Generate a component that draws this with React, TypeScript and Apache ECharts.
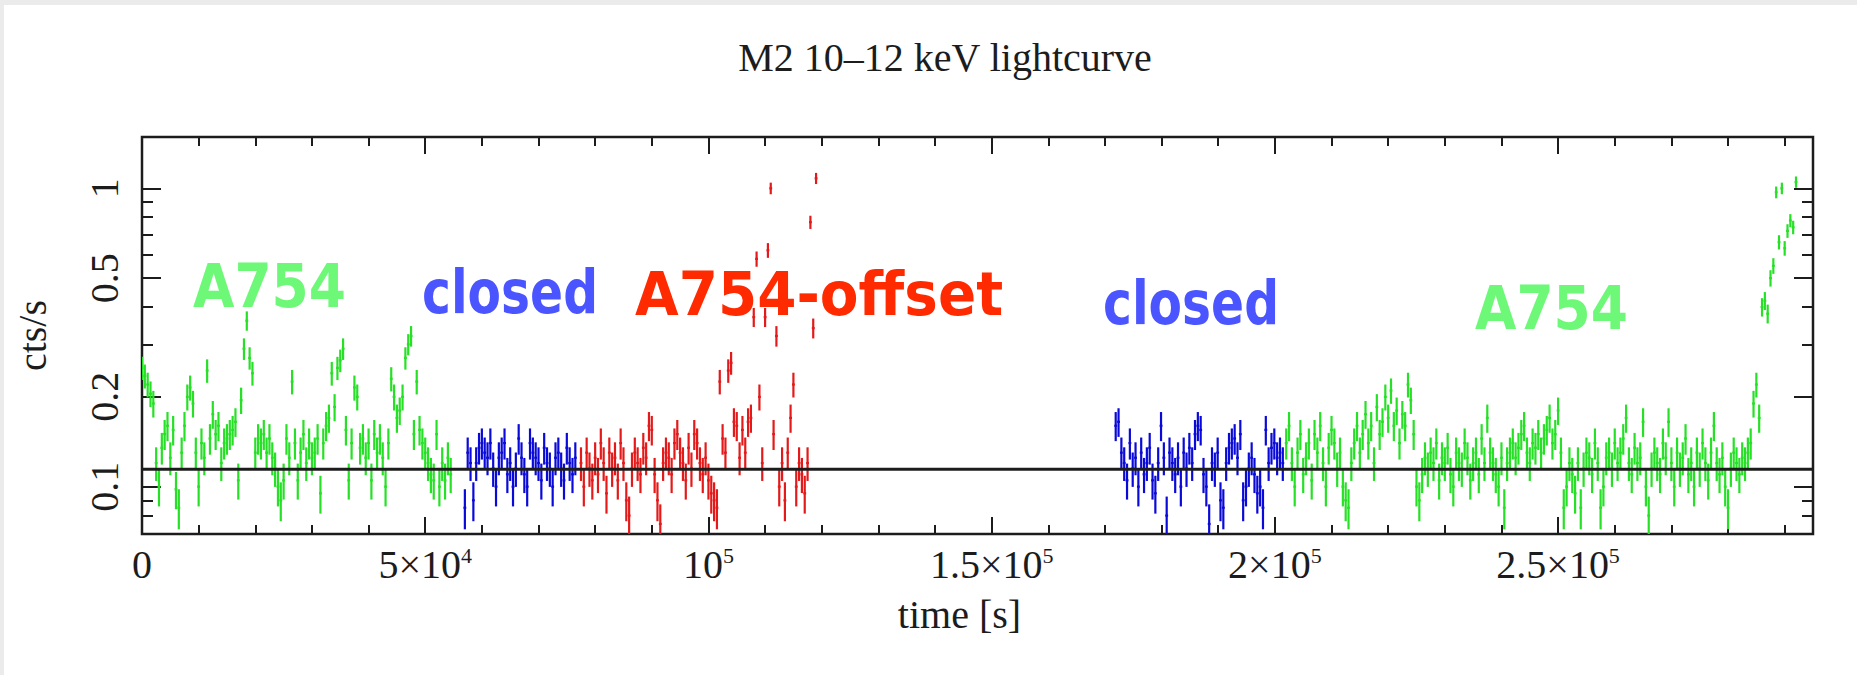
import { useEffect, useRef } from 'react';
import * as echarts from 'echarts';

// Binning and plot ranges of the light curve
const BIN_SIZE = 500; // seconds per bin
const TIME_MIN = 0;
const TIME_MAX = 2.95e5;
const RATE_MIN = 0.0694;
const RATE_MAX = 1.486;
const MEAN_RATE = 0.1144;

// Count rates (cts/s) per 500 s bin, one array per observation segment
const a754Start1 = 0;
const a754Rates1 = [
  0.25, 0.235, 0.22, 0.205, 0.19, 0.12, 0.1, 0.135, 0.15, 0.16,
  0.125, 0.155, 0.098, 0.085, 0.13, 0.16, 0.2, 0.215, 0.19, 0.13,
  0.1, 0.14, 0.125, 0.245, 0.145, 0.175, 0.15, 0.16, 0.12, 0.14,
  0.145, 0.15, 0.155, 0.165, 0.105, 0.195, 0.29, 0.36, 0.27, 0.24,
  0.13, 0.145, 0.14, 0.15, 0.13, 0.145, 0.125, 0.115, 0.1, 0.09,
  0.105, 0.145, 0.125, 0.225, 0.14, 0.105, 0.13, 0.15, 0.12, 0.14,
  0.125, 0.13, 0.145, 0.095, 0.14, 0.16, 0.17, 0.24, 0.185, 0.25,
  0.265, 0.29, 0.155, 0.105, 0.14, 0.215, 0.2, 0.135, 0.145, 0.125,
  0.14, 0.105, 0.15, 0.13, 0.145, 0.125, 0.1, 0.14, 0.23, 0.2,
  0.17, 0.18, 0.2, 0.27, 0.3, 0.32, 0.15, 0.225, 0.155, 0.14,
  0.13, 0.12, 0.11, 0.105, 0.15, 0.1, 0.12, 0.105, 0.125, 0.11,
];

const closedStart1 = 57000;
const closedRates1 = [
  0.085, 0.13, 0.12, 0.09, 0.12, 0.135, 0.14, 0.13, 0.125, 0.14,
  0.115, 0.1, 0.125, 0.13, 0.14, 0.11, 0.12, 0.1, 0.115, 0.145,
  0.125, 0.11, 0.1, 0.14, 0.13, 0.125, 0.12, 0.105, 0.135, 0.12,
  0.115, 0.1, 0.125, 0.13, 0.115, 0.105, 0.135, 0.12, 0.11, 0.125,
];

const offsetStart = 77500;
const offsetRates = [
  0.12, 0.1, 0.13, 0.115, 0.105, 0.125, 0.11, 0.14, 0.12, 0.095,
  0.13, 0.115, 0.125, 0.105, 0.14, 0.12, 0.09, 0.08, 0.115, 0.13,
  0.12, 0.11, 0.135, 0.125, 0.16, 0.155, 0.11, 0.09, 0.075, 0.12,
  0.13, 0.125, 0.11, 0.14, 0.15, 0.13, 0.12, 0.105, 0.135, 0.115,
  0.15, 0.14, 0.12, 0.11, 0.125, 0.105, 0.095, 0.09, 0.085, 0.225,
  0.145, 0.13, 0.245, 0.26, 0.165, 0.16, 0.125, 0.155, 0.13, 0.165,
  0.17, 0.37, 0.58, 0.2, 0.12, 0.37, 0.62, 1.0, 0.15, 0.32,
  0.1, 0.12, 0.09, 0.13, 0.17, 0.22, 0.1, 0.12, 0.11, 0.095,
  0.12, 0.77, 0.34, 1.08,
];

const closedStart2 = 171900;
const closedRates2 = [
  0.16, 0.165, 0.13, 0.12, 0.105, 0.14, 0.115, 0.125, 0.1, 0.13,
  0.11, 0.12, 0.135, 0.105, 0.095, 0.12, 0.16, 0.125, 0.08, 0.13,
  0.12, 0.11, 0.125, 0.1, 0.13, 0.115, 0.135, 0.12, 0.15, 0.16,
  0.155, 0.11, 0.1, 0.075, 0.12, 0.115, 0.13, 0.09, 0.085, 0.12,
  0.135, 0.14, 0.145, 0.125, 0.15, 0.09, 0.1, 0.115, 0.125, 0.11,
  0.095, 0.1, 0.085, 0.155, 0.12, 0.135, 0.14, 0.125, 0.13, 0.12,
];

const a754Start2 = 202000;
const a754Rates2 = [
  0.14, 0.16, 0.12, 0.1, 0.13, 0.15, 0.11, 0.125, 0.14, 0.105,
  0.15, 0.13, 0.16, 0.12, 0.1, 0.135, 0.155, 0.14, 0.115, 0.13,
  0.1, 0.09, 0.085, 0.12, 0.14, 0.16, 0.13, 0.15, 0.175, 0.14,
  0.16, 0.12, 0.185, 0.15, 0.165, 0.2, 0.17, 0.21, 0.16, 0.18,
  0.14, 0.175, 0.16, 0.22, 0.195, 0.15, 0.1, 0.09, 0.11, 0.125,
  0.115, 0.13, 0.12, 0.14, 0.105, 0.125, 0.12, 0.135, 0.11, 0.1,
  0.13, 0.12, 0.115, 0.14, 0.125, 0.105, 0.12, 0.13, 0.11, 0.145,
  0.12, 0.17, 0.13, 0.12, 0.11, 0.1, 0.125, 0.085, 0.12, 0.13,
  0.14, 0.125, 0.135, 0.15, 0.16, 0.13, 0.12, 0.14, 0.135, 0.15,
  0.13, 0.145, 0.155, 0.17, 0.14, 0.15, 0.18, 0.13, 0.085, 0.1,
  0.12, 0.11, 0.095, 0.12, 0.085, 0.115, 0.13, 0.125, 0.11, 0.14,
  0.12, 0.085, 0.1, 0.125, 0.13, 0.115, 0.14, 0.12, 0.13, 0.145,
  0.17, 0.12, 0.11, 0.135, 0.12, 0.125, 0.165, 0.1, 0.08, 0.115,
  0.13, 0.12, 0.11, 0.14, 0.125, 0.165, 0.12, 0.1, 0.13, 0.115,
  0.125, 0.145, 0.11, 0.12, 0.1, 0.13, 0.115, 0.14, 0.12, 0.105,
  0.13, 0.16, 0.12, 0.11, 0.125, 0.1, 0.085, 0.115, 0.13, 0.12,
  0.11, 0.125, 0.12, 0.13, 0.14, 0.19, 0.22, 0.17, 0.4, 0.42,
  0.38, 0.5, 0.55, 0.97, 0.66, 1.0, 0.63, 0.72, 0.78, 0.74, 1.05,
];

// Axis ticks and their labels
const xMajorTicks = [0, 5e4, 1e5, 1.5e5, 2e5, 2.5e5];
const xTickLabels = ['0', '5×10{sup|4}', '10{sup|5}', '1.5×10{sup|5}', '2×10{sup|5}', '2.5×10{sup|5}'];
const xMinorTicks = [
  1e4, 2e4, 3e4, 4e4, 6e4, 7e4, 8e4, 9e4, 1.1e5, 1.2e5, 1.3e5, 1.4e5,
  1.6e5, 1.7e5, 1.8e5, 1.9e5, 2.1e5, 2.2e5, 2.3e5, 2.4e5, 2.6e5, 2.7e5, 2.8e5, 2.9e5,
];
const yMajorTicks = [0.1, 0.2, 0.5, 1];
const yTickLabels = ['0.1', '0.2', '0.5', '1'];
const yMinorTicks = [0.08, 0.09, 0.3, 0.4, 0.6, 0.7, 0.8, 0.9];

// Colours
const INK = '#1c1c1c';
const GREEN = '#26e026';
const BLUE = '#0a0ad8';
const RED = '#e41a1a';
const GREEN_TEXT = '#6ef878';
const BLUE_TEXT = '#4a55ff';
const RED_TEXT = '#ff2a00';

const SERIF = 'Liberation Serif';
const LABEL_FONT = 'DejaVu Sans';
const LABEL_SIZE = 61;

// Chart box inside the page frame
const FRAME_X = 4;
const FRAME_Y = 5;
const CHART_W = 1853;
const CHART_H = 670;

const segments = [
  { name: 'A754', start: a754Start1, rates: a754Rates1, color: GREEN },
  { name: 'closed', start: closedStart1, rates: closedRates1, color: BLUE },
  { name: 'A754-offset', start: offsetStart, rates: offsetRates, color: RED },
  { name: 'closed', start: closedStart2, rates: closedRates2, color: BLUE },
  { name: 'A754', start: a754Start2, rates: a754Rates2, color: GREEN },
];

// Region annotations: left edge, baseline (page px) and ink width
const annotations = [
  { text: 'A754', color: GREEN_TEXT, left: 193, baseline: 308, width: 147 },
  { text: 'closed', color: BLUE_TEXT, left: 422, baseline: 313, width: 170 },
  { text: 'A754-offset', color: RED_TEXT, left: 635, baseline: 315, width: 362 },
  { text: 'closed', color: BLUE_TEXT, left: 1103, baseline: 324, width: 170 },
  { text: 'A754', color: GREEN_TEXT, left: 1475, baseline: 330, width: 147 },
];

function labelFor(ticks: number[], labels: string[], v: number): string {
  for (let i = 0; i < ticks.length; i++) {
    if (Math.abs(ticks[i] - v) <= 1e-6 * Math.max(1, Math.abs(ticks[i]))) return labels[i];
  }
  return '';
}

// Each bin: time, rate, and Poisson 1-sigma limits for a 500 s exposure
function binsOf(start: number, rates: number[]) {
  return rates.map((r, i) => {
    const err = Math.sqrt(r * BIN_SIZE) / BIN_SIZE;
    return [start + i * BIN_SIZE, r, r - err, r + err];
  });
}

function crossRenderer(color: string) {
  return (_params: any, api: any) => {
    const t = api.value(0);
    const r = api.value(1);
    const top = api.coord([t, api.value(3)]);
    const bottom = api.coord([t, api.value(2)]);
    const left = api.coord([t - BIN_SIZE / 2, r]);
    const right = api.coord([t + BIN_SIZE / 2, r]);
    const style = { stroke: color, lineWidth: 2.2 };
    return {
      type: 'group',
      children: [
        { type: 'line', shape: { x1: top[0], y1: top[1], x2: bottom[0], y2: bottom[1] }, style },
        { type: 'line', shape: { x1: left[0], y1: left[1], x2: right[0], y2: right[1] }, style },
      ],
    };
  };
}

function measure(text: string, font: string): number {
  const ctx = document.createElement('canvas').getContext('2d');
  if (!ctx) return text.length * 30;
  ctx.font = font;
  return ctx.measureText(text).width;
}

function tickAxis(dim: 'x' | 'y', position: string, ticks: number[], length: number) {
  const base: any = {
    gridIndex: 0,
    position,
    axisLine: { show: false, onZero: false },
    splitLine: { show: false },
    axisLabel: { show: false },
    axisTick: { show: true, inside: true, length, customValues: ticks, lineStyle: { color: INK, width: 2 } },
  };
  if (dim === 'x') return { ...base, type: 'value', min: TIME_MIN, max: TIME_MAX };
  return { ...base, type: 'log', logBase: 10, min: RATE_MIN, max: RATE_MAX };
}

export default function App() {
  const ref = useRef<HTMLDivElement>(null);

  useEffect(() => {
    if (!ref.current) return;
    const chart = echarts.init(ref.current, undefined, { renderer: 'svg' });

    const labelFont = `bold ${LABEL_SIZE}px "${LABEL_FONT}"`;
    const annotationGraphics = annotations.map((a) => {
      const w = measure(a.text, labelFont);
      return {
        type: 'text',
        x: a.left - FRAME_X,
        y: a.baseline - FRAME_Y - LABEL_SIZE * 0.35,
        scaleX: (a.width + 6) / w,
        z: 20,
        silent: true,
        style: {
          text: a.text,
          fill: a.color,
          font: labelFont,
          align: 'left',
          verticalAlign: 'middle',
          textAlign: 'left',
          textVerticalAlign: 'middle',
        },
      };
    });

    const dataSeries = segments.map((s) => ({
      type: 'custom',
      name: s.name,
      xAxisIndex: 0,
      yAxisIndex: 0,
      clip: true,
      silent: true,
      z: 2,
      encode: { x: 0, y: [1, 2, 3] },
      data: binsOf(s.start, s.rates),
      renderItem: crossRenderer(s.color),
    }));

    const option: any = {
      animation: false,
      backgroundColor: '#ffffff',
      grid: {
        left: 136 - FRAME_X,
        top: 137 - FRAME_Y,
        right: CHART_W + FRAME_X - 1813,
        bottom: CHART_H + FRAME_Y - 534,
        show: true,
        backgroundColor: '#ffffff',
        borderColor: INK,
        borderWidth: 2.5,
        containLabel: false,
      },
      xAxis: [
        {
          type: 'value',
          gridIndex: 0,
          position: 'bottom',
          min: TIME_MIN,
          max: TIME_MAX,
          axisLine: { show: false, onZero: false },
          splitLine: { show: false },
          axisTick: { show: true, inside: true, length: 17, customValues: xMajorTicks, lineStyle: { color: INK, width: 2 } },
          axisLabel: {
            show: true,
            customValues: xMajorTicks,
            margin: 10,
            fontFamily: SERIF,
            fontSize: 40,
            lineHeight: 40,
            color: INK,
            formatter: (v: number) => labelFor(xMajorTicks, xTickLabels, v),
            rich: {
              sup: { fontFamily: SERIF, fontSize: 22, lineHeight: 32, verticalAlign: 'top', color: INK },
            },
          },
          name: 'time [s]',
          nameLocation: 'middle',
          nameGap: 60,
          nameTextStyle: { fontFamily: SERIF, fontSize: 40, color: INK, padding: [0, 36, 0, 0] },
        },
        tickAxis('x', 'bottom', xMinorTicks, 9),
        tickAxis('x', 'top', xMajorTicks, 17),
        tickAxis('x', 'top', xMinorTicks, 9),
      ],
      yAxis: [
        {
          type: 'log',
          logBase: 10,
          gridIndex: 0,
          position: 'left',
          min: RATE_MIN,
          max: RATE_MAX,
          axisLine: { show: false, onZero: false },
          splitLine: { show: false },
          axisTick: { show: true, inside: true, length: 19, customValues: yMajorTicks, lineStyle: { color: INK, width: 2 } },
          axisLabel: {
            show: true,
            customValues: yMajorTicks,
            rotate: 90,
            margin: 18,
            fontFamily: SERIF,
            fontSize: 40,
            color: INK,
            formatter: (v: number) => labelFor(yMajorTicks, yTickLabels, v),
          },
          name: 'cts/s',
          nameLocation: 'middle',
          nameGap: 90,
          nameTextStyle: { fontFamily: SERIF, fontSize: 40, color: INK },
        },
        tickAxis('y', 'left', yMinorTicks, 11),
        tickAxis('y', 'right', yMajorTicks, 19),
        tickAxis('y', 'right', yMinorTicks, 11),
      ],
      series: [
        ...dataSeries,
        {
          type: 'line',
          name: 'mean',
          xAxisIndex: 0,
          yAxisIndex: 0,
          silent: true,
          symbol: 'none',
          z: 5,
          data: [
            [TIME_MIN, MEAN_RATE],
            [TIME_MAX, MEAN_RATE],
          ],
          lineStyle: { color: INK, width: 3 },
        },
      ],
      graphic: [
        {
          type: 'text',
          x: 945 - FRAME_X,
          y: 57 - FRAME_Y,
          silent: true,
          style: {
            text: 'M2 10–12 keV lightcurve',
            fill: INK,
            font: `40px "${SERIF}"`,
            align: 'center',
            verticalAlign: 'middle',
            textAlign: 'center',
            textVerticalAlign: 'middle',
          },
        },
        ...annotationGraphics,
      ],
    };

    chart.setOption(option);
    return () => chart.dispose();
  }, []);

  return (
    <div style={{ position: 'fixed', left: 0, top: 0, width: 1857, height: 675, background: '#ebebeb' }}>
      <div
        ref={ref}
        style={{ position: 'absolute', left: FRAME_X, top: FRAME_Y, width: CHART_W, height: CHART_H, background: '#ffffff' }}
      />
    </div>
  );
}
